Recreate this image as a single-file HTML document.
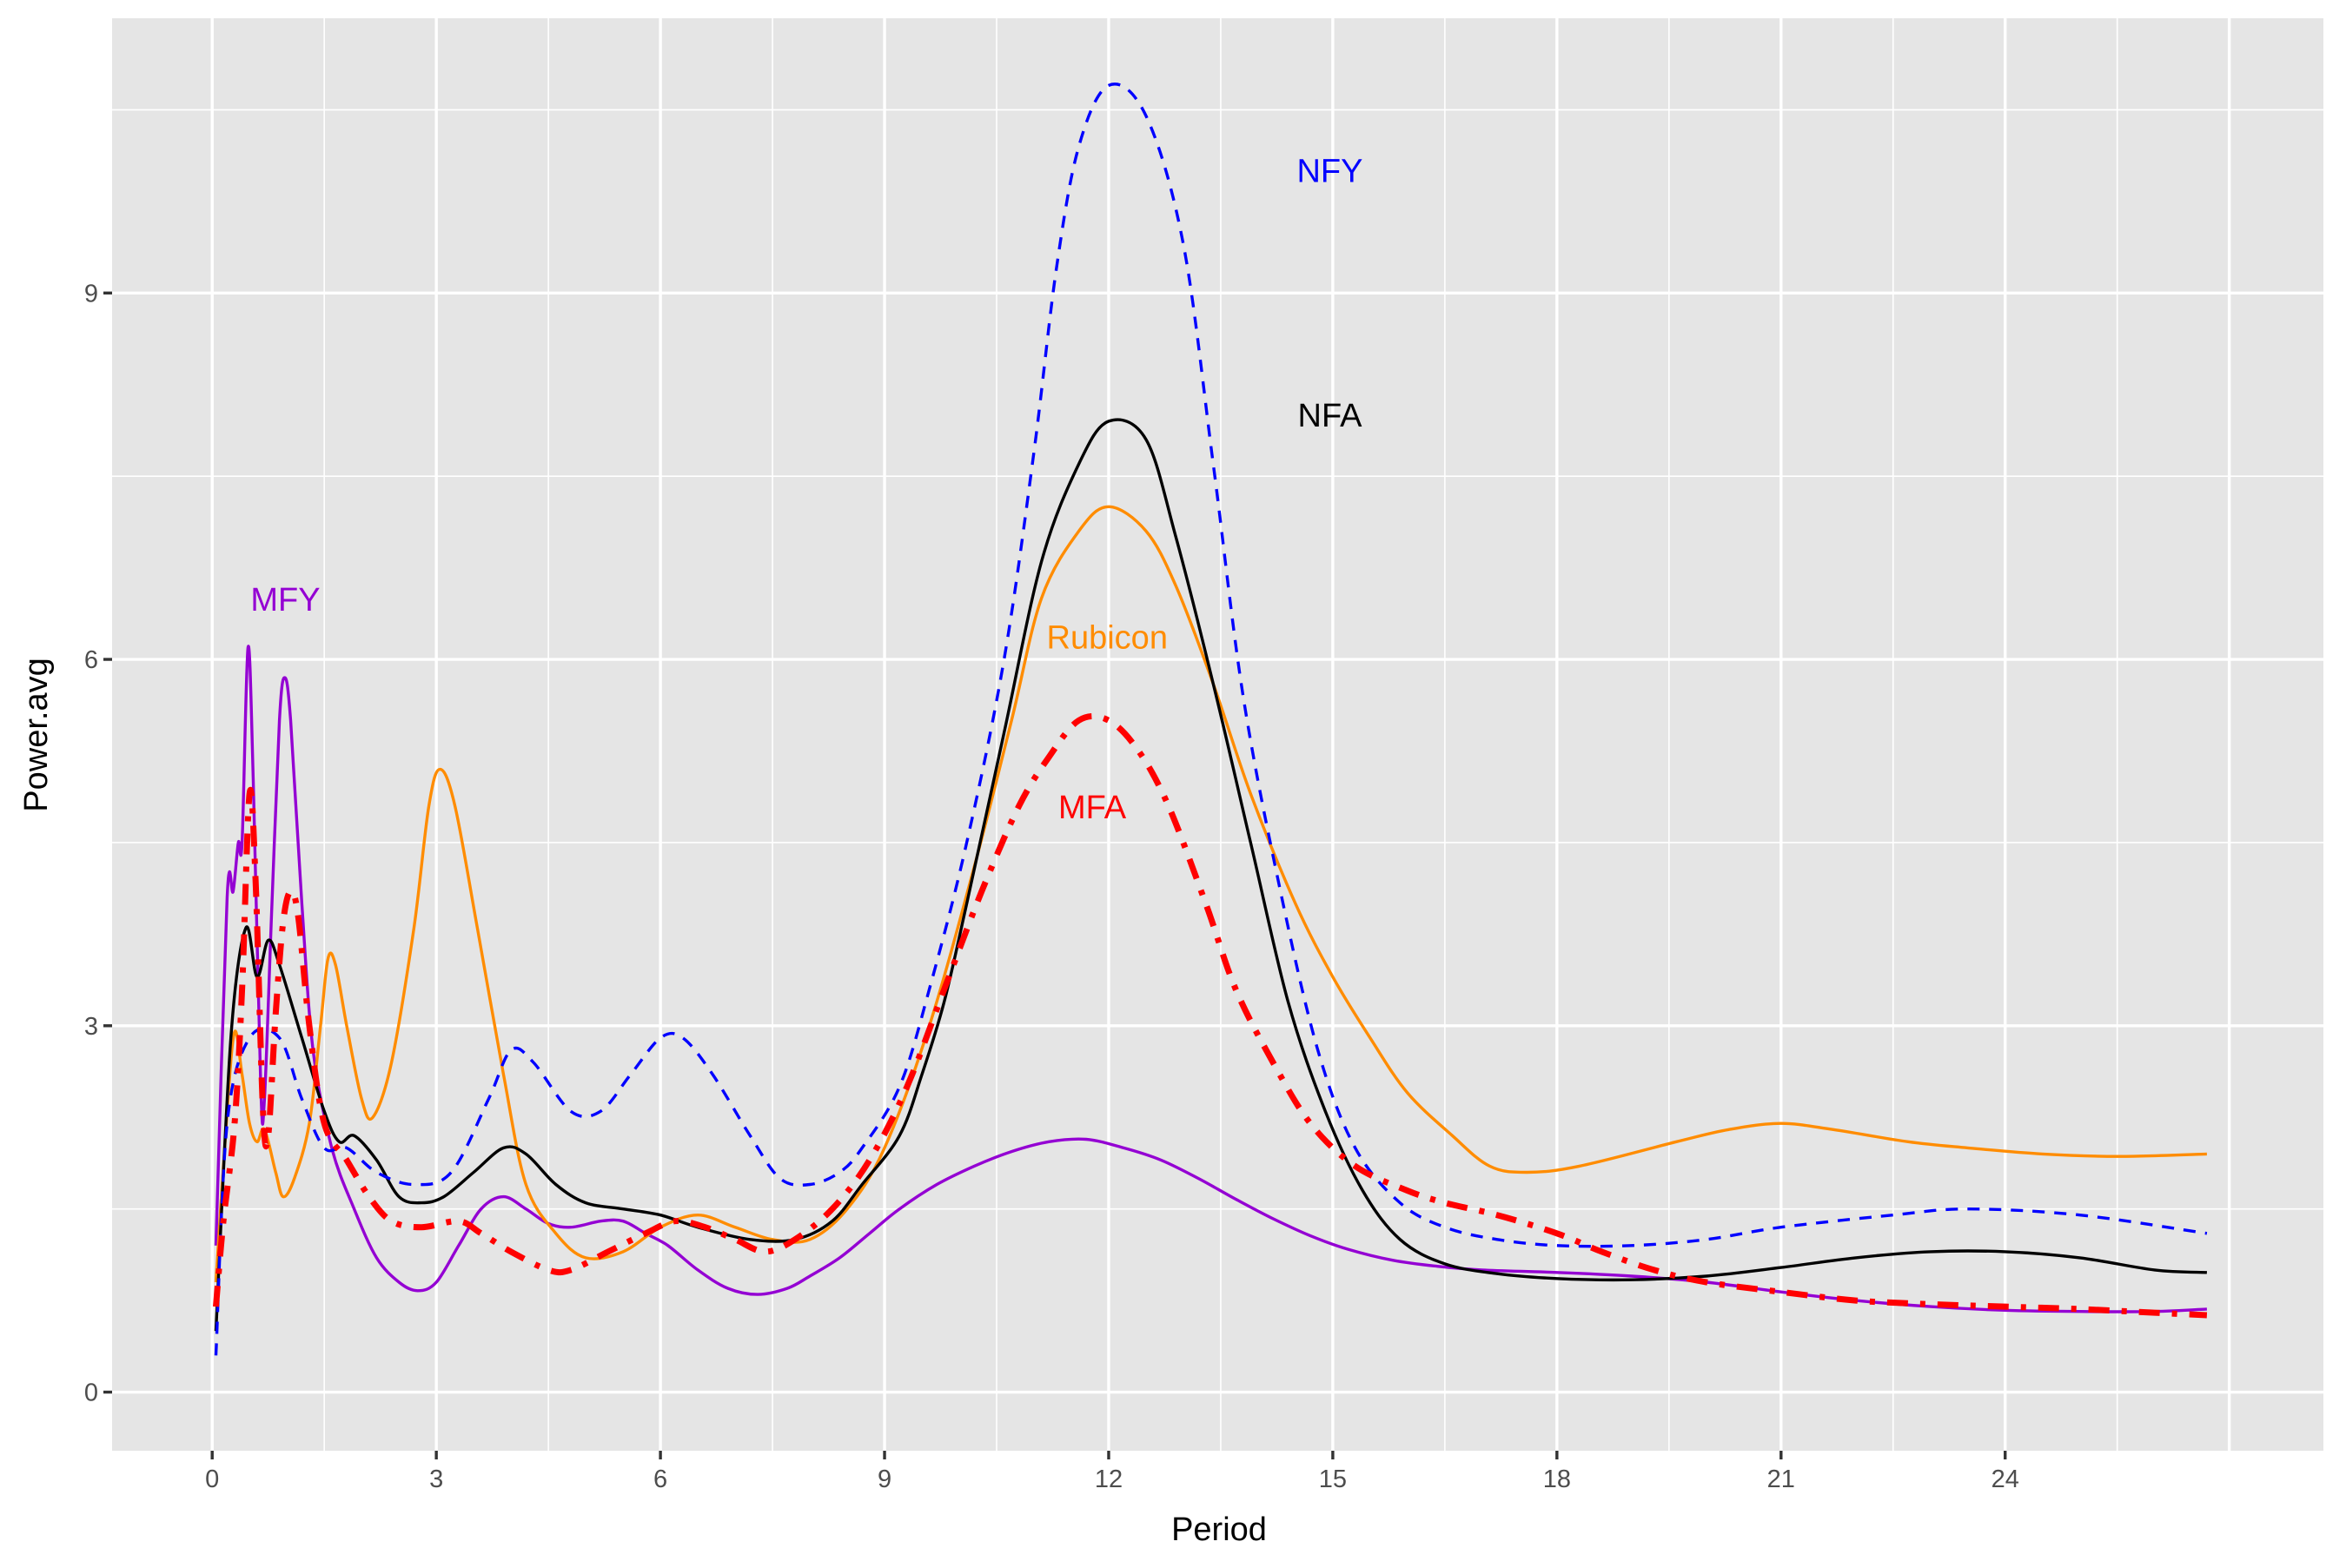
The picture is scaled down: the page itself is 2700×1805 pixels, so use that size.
<!DOCTYPE html>
<html><head><meta charset="utf-8"><style>
html,body{margin:0;padding:0;background:#fff;}
svg text{font-family:"Liberation Sans",Arial,sans-serif;}
</style></head><body>
<svg id="chart" xmlns="http://www.w3.org/2000/svg" width="2700" height="1800" viewBox="0 0 2700 1800">
<rect width="2700" height="1800" fill="#fff"/>
<g id="grid"></g>
<g id="series"></g>
<g id="axes"></g>
<text x="1403" y="1773" font-size="38" fill="#000" text-anchor="middle">Period</text>
<text x="0" y="0" font-size="38" fill="#000" text-anchor="middle" transform="translate(54,846) rotate(-90)">Power.avg</text>
</svg>
<script>
const xTicks=[0,3,6,9,12,15,18,21,24];
const yTicks=[0,3,6,9];
const nfyX=[0.05,0.2,0.5,0.9,1.2,1.5,1.8,2.2,2.7,3.2,3.7,4.0,4.3,4.8,5.2,5.6,6.0,6.3,6.7,7.2,7.6,8.0,8.4,8.7,9.2,9.6,10.1,10.6,11.0,11.3,11.6,12.0,12.5,13.0,13.4,13.8,14.3,14.8,15.3,15.9,16.5,17.2,18,19,20,21,22.5,23.5,25,26.7];
const nfyY=[0.3,2.2,2.9,2.9,2.4,2.0,2.0,1.8,1.7,1.8,2.4,2.8,2.7,2.3,2.3,2.6,2.9,2.9,2.6,2.1,1.75,1.7,1.8,2.0,2.5,3.3,4.5,6.0,7.7,9.2,10.2,10.7,10.45,9.4,7.6,5.7,4.1,2.8,2.0,1.55,1.35,1.25,1.2,1.2,1.25,1.35,1.45,1.5,1.45,1.3];
const nfaX=[0.05,0.25,0.45,0.6,0.75,0.9,1.2,1.5,1.7,1.9,2.2,2.5,2.8,3.1,3.5,3.9,4.2,4.6,5.0,5.5,6,6.5,7.2,7.8,8.3,8.7,9.2,9.5,9.8,10.1,10.6,11.1,11.6,12.0,12.5,12.9,13.4,13.9,14.4,14.9,15.4,15.9,16.5,17.2,18,19,20,21,22,23,24,25,26,26.7];
const nfaY=[0.5,2.9,3.8,3.4,3.7,3.5,2.9,2.3,2.05,2.1,1.9,1.6,1.55,1.6,1.8,2.0,1.95,1.7,1.55,1.5,1.45,1.35,1.25,1.25,1.4,1.7,2.1,2.6,3.2,4.0,5.4,6.8,7.6,7.95,7.8,7.0,5.8,4.5,3.2,2.3,1.65,1.25,1.05,0.97,0.93,0.92,0.95,1.02,1.1,1.15,1.15,1.1,1.0,0.98];
const rubX=[0.05,0.2,0.3,0.4,0.5,0.6,0.7,0.85,0.95,1.1,1.3,1.45,1.55,1.65,1.8,2.0,2.15,2.4,2.7,2.9,3.05,3.25,3.55,3.9,4.2,4.6,5.0,5.5,6.0,6.5,7.0,7.5,8.0,8.5,9.0,9.6,10.2,10.7,11.1,11.6,12.0,12.5,12.9,13.4,13.9,14.5,15.0,15.5,16.0,16.6,17.1,17.6,18.3,19.6,20.3,21,21.7,22.7,23.5,24.5,25.5,26.7];
const rubY=[0.9,2.3,2.95,2.6,2.2,2.05,2.15,1.8,1.6,1.75,2.2,3.0,3.55,3.5,3.0,2.4,2.25,2.7,3.8,4.8,5.1,4.8,3.8,2.6,1.7,1.3,1.1,1.15,1.35,1.45,1.35,1.25,1.25,1.5,2.0,3.0,4.3,5.5,6.5,7.05,7.25,7.05,6.6,5.8,4.9,4.0,3.4,2.9,2.45,2.1,1.85,1.8,1.85,2.05,2.15,2.2,2.15,2.05,2.0,1.95,1.93,1.95];
const mfaX=[0.05,0.15,0.3,0.4,0.5,0.58,0.68,0.75,0.85,0.95,1.05,1.15,1.3,1.5,1.8,2.1,2.4,2.8,3.3,3.6,4.0,4.5,4.8,5.3,5.8,6.2,6.6,7.0,7.4,7.8,8.3,8.8,9.3,9.8,10.3,10.8,11.2,11.6,12.0,12.4,12.8,13.3,13.7,14.2,14.7,15.3,16,16.5,17.2,18,18.6,19.3,20,21,22,23,24,25,26,26.7];
const mfaY=[0.7,1.4,2.2,3.3,4.9,4.2,2.3,2.1,3.1,3.85,4.1,3.9,3.0,2.2,1.9,1.6,1.4,1.35,1.4,1.3,1.15,1.0,1.0,1.15,1.3,1.4,1.35,1.25,1.15,1.25,1.5,1.9,2.5,3.3,4.1,4.8,5.2,5.5,5.5,5.25,4.8,4.0,3.3,2.7,2.2,1.85,1.65,1.55,1.45,1.3,1.15,1.0,0.9,0.82,0.75,0.72,0.7,0.68,0.65,0.63];
const mfyX=[0.05,0.2,0.28,0.35,0.4,0.48,0.55,0.65,0.7,0.8,0.9,0.97,1.05,1.2,1.35,1.6,1.9,2.2,2.5,2.75,3.0,3.3,3.6,3.9,4.2,4.5,4.8,5.2,5.5,5.8,6.1,6.5,6.9,7.3,7.7,8.0,8.4,8.8,9.2,9.7,10.2,10.7,11.2,11.7,12.2,12.7,13.2,13.7,14.2,14.7,15.2,15.8,16.4,17.0,18,19,20,21,22,23,24,25,26,26.7];
const mfyY=[1.2,4.05,4.1,4.5,4.5,6.1,5.0,2.5,2.4,4.0,5.5,5.85,5.5,4.0,2.8,2.0,1.5,1.1,0.9,0.83,0.9,1.2,1.5,1.6,1.5,1.38,1.35,1.4,1.4,1.3,1.2,1.0,0.85,0.8,0.85,0.95,1.1,1.3,1.5,1.7,1.85,1.97,2.05,2.07,2.0,1.9,1.75,1.58,1.42,1.28,1.17,1.08,1.03,1.0,0.98,0.95,0.9,0.82,0.75,0.7,0.67,0.66,0.66,0.68];
const labelNames=["NFY","NFA","Rubicon","MFA","MFY"];
const labelX=[14.96,14.96,11.98,11.78,0.98];
const labelY=[10.0,8.0,6.18,4.79,6.49];

const NS="http://www.w3.org/2000/svg";
const PL=129,PR=2674,PT=21,PB=1670;
const XMIN=-1.34,XMAX=28.26,YMIN=-0.48,YMAX=11.25;
function sx(v){return PL+(v-XMIN)/(XMAX-XMIN)*(PR-PL);}
function sy(v){return PB-(v-YMIN)/(YMAX-YMIN)*(PB-PT);}
function mk(tag,attrs,parent){const e=document.createElementNS(NS,tag);for(const k in attrs)e.setAttribute(k,attrs[k]);parent.appendChild(e);return e;}
const grid=document.getElementById('grid'),axes=document.getElementById('axes'),ser=document.getElementById('series');
const bg=mk('rect',{x:PL,y:PT,width:PR-PL,height:PB-PT,fill:'#e5e5e5'},grid);


for(let v=1.5;v<=27;v+=3){const l=mk('line',{x1:sx(v),x2:sx(v),y1:PT,y2:PB,stroke:'#fff','stroke-width':1.6},grid);

}
for(let v=1.5;v<=10.5;v+=3){const l=mk('line',{x1:PL,x2:PR,y1:sy(v),y2:sy(v),stroke:'#fff','stroke-width':1.6},grid);

}
[...xTicks,27].forEach(v=>{const l=mk('line',{x1:sx(v),x2:sx(v),y1:PT,y2:PB,stroke:'#fff','stroke-width':3.4},grid);

});
yTicks.forEach(v=>{const l=mk('line',{x1:PL,x2:PR,y1:sy(v),y2:sy(v),stroke:'#fff','stroke-width':3.4},grid);

});
xTicks.forEach(v=>{const t=mk('line',{x1:sx(v),x2:sx(v),y1:PB,y2:PB+10,stroke:'#333','stroke-width':3.4},axes);


const tx=mk('text',{x:sx(v),y:PB+42,'font-size':29,fill:'#4d4d4d','text-anchor':'middle'},axes);tx.textContent=v;

});
yTicks.forEach(v=>{const t=mk('line',{x1:PL-10,x2:PL,y1:sy(v),y2:sy(v),stroke:'#333','stroke-width':3.4},axes);


const tx=mk('text',{x:PL-16,y:sy(v)+10,'font-size':29,fill:'#4d4d4d','text-anchor':'end'},axes);tx.textContent=v;

});
function line(xs,ys,color,w,dash,name){
 const P=xs.map((x,i)=>[sx(x),sy(ys[i])]);
 let d='M'+P[0][0].toFixed(1)+','+P[0][1].toFixed(1);
 for(let i=0;i<P.length-1;i++){
  const p0=P[Math.max(0,i-1)],p1=P[i],p2=P[i+1],p3=P[Math.min(P.length-1,i+2)];
  const c1x=p1[0]+(p2[0]-p0[0])/6,c1y=p1[1]+(p2[1]-p0[1])/6;
  const c2x=p2[0]-(p3[0]-p1[0])/6,c2y=p2[1]-(p3[1]-p1[1])/6;
  d+='C'+c1x.toFixed(1)+','+c1y.toFixed(1)+' '+c2x.toFixed(1)+','+c2y.toFixed(1)+' '+p2[0].toFixed(1)+','+p2[1].toFixed(1);
 }
 const p=mk('path',{d:d,fill:'none',stroke:color,'stroke-width':w,'stroke-linejoin':'round'},ser);
 if(dash)p.setAttribute('stroke-dasharray',dash);
 
 
}
line(mfyX,mfyY,'#9400d3',3.4,null,'mfy-line');
line(rubX,rubY,'#ff8c00',3.4,null,'rubicon-line');
line(nfaX,nfaY,'#000',3.4,null,'nfa-line');
line(nfyX,nfyY,'#0000ff',3.4,'14 11','nfy-line');
line(mfaX,mfaY,'#ff0000',7,'24 14 6 14','mfa-line');
const lc=['#0000ff','#000','#ff8c00','#ff0000','#9400d3'];
labelNames.forEach((n,i)=>{const t=mk('text',{x:sx(labelX[i]),y:sy(labelY[i])+13,'font-size':38,fill:lc[i],'text-anchor':'middle'},ser);t.textContent=n;

});
</script>
</body></html>
